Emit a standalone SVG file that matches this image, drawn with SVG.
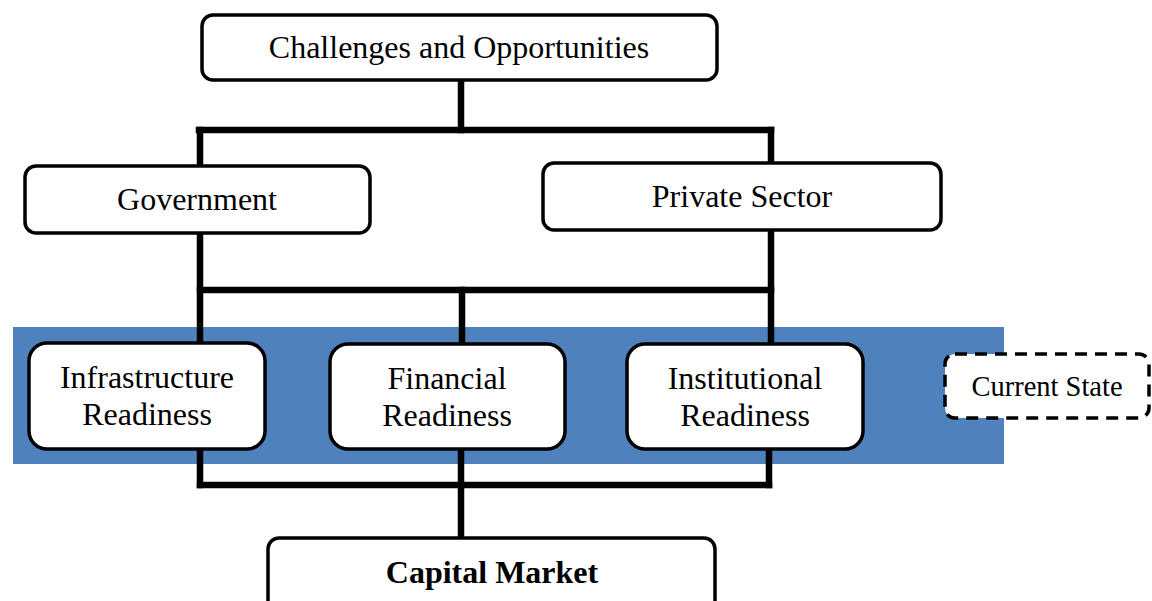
<svg xmlns="http://www.w3.org/2000/svg" width="1152" height="601" viewBox="0 0 1152 601">
  <style>
    .box { fill: #ffffff; stroke: #000000; stroke-width: 3.5; }
    .dash { fill: #ffffff; stroke: #000000; stroke-width: 3.5; stroke-dasharray: 12 8; }
    .lbl { font-family: "Liberation Serif", "Times New Roman", serif; font-size: 32px; fill: #000000; text-anchor: middle; }
    .small { font-size: 28.5px; }
    .bold { font-weight: bold; }
    .wire { stroke: #000000; stroke-width: 6.5; fill: none; stroke-linecap: square; }
  </style>
  <rect width="1152" height="601" fill="#ffffff"/>

  <!-- readiness band -->
  <rect id="band" x="13" y="327" width="991" height="137" fill="#4F81BD"/>

  <!-- connectors -->
  <g id="connectors">
    <path class="wire" d="M461 81 V130"/>
    <path class="wire" d="M199 130 H771"/>
    <path class="wire" d="M200 130 V165"/>
    <path class="wire" d="M771 130 V162"/>
    <path class="wire" d="M200 234 V341"/>
    <path class="wire" d="M771 232 V341"/>
    <path class="wire" d="M200 290 H771"/>
    <path class="wire" d="M462 290 V342"/>
    <path class="wire" d="M200 450 V485"/>
    <path class="wire" d="M769 450 V485"/>
    <path class="wire" d="M200 485 H769"/>
    <path class="wire" d="M461 450 V535"/>
  </g>

  <g id="challenges">
    <rect class="box" x="202" y="15" width="515" height="65" rx="11"/>
    <text class="lbl" x="459" y="58">Challenges and Opportunities</text>
  </g>

  <g id="government">
    <rect class="box" x="25" y="166" width="345" height="67" rx="11"/>
    <text class="lbl" x="197" y="210">Government</text>
  </g>

  <g id="private-sector">
    <rect class="box" x="543" y="163" width="398" height="67" rx="11"/>
    <text class="lbl" x="742" y="207">Private Sector</text>
  </g>

  <g id="infrastructure">
    <rect class="box" x="29" y="343" width="236" height="106" rx="18"/>
    <text class="lbl" x="147" y="388">Infrastructure</text>
    <text class="lbl" x="147" y="425">Readiness</text>
  </g>

  <g id="financial">
    <rect class="box" x="330" y="344" width="235" height="105" rx="18"/>
    <text class="lbl" x="447" y="389">Financial</text>
    <text class="lbl" x="447" y="426">Readiness</text>
  </g>

  <g id="institutional">
    <rect class="box" x="627" y="344" width="236" height="105" rx="18"/>
    <text class="lbl" x="745" y="389">Institutional</text>
    <text class="lbl" x="745" y="426">Readiness</text>
  </g>

  <g id="current-state">
    <rect class="dash" x="945" y="354" width="204" height="64" rx="10"/>
    <text class="lbl small" x="1047" y="396">Current State</text>
  </g>

  <g id="capital-market">
    <rect class="box" x="268" y="538" width="447" height="80" rx="11"/>
    <text class="lbl bold" x="492" y="583">Capital Market</text>
  </g>
</svg>
